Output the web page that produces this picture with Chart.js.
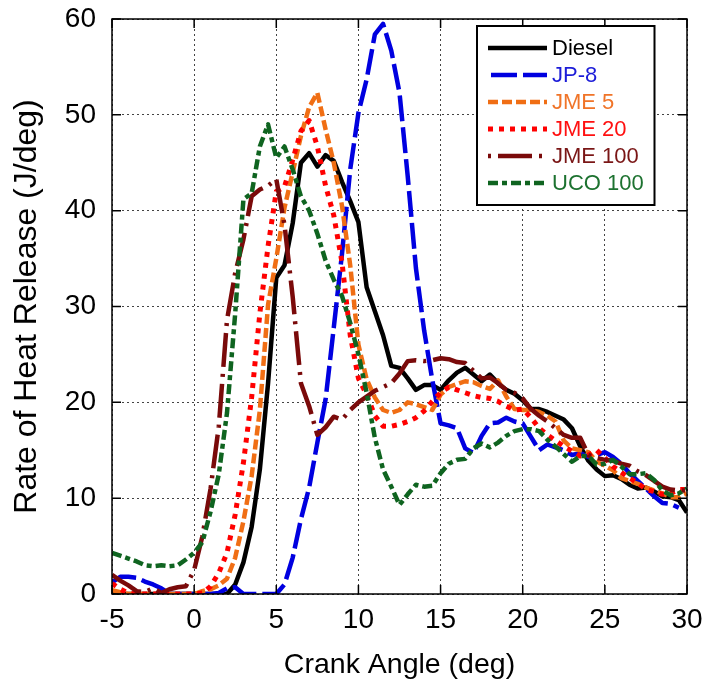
<!DOCTYPE html>
<html><head><meta charset="utf-8">
<script src="https://cdn.jsdelivr.net/npm/chart.js@4.4.1/dist/chart.umd.min.js"></script>
<style>html,body{margin:0;padding:0;background:#fff;}#wrap{width:706px;height:692px;position:relative;}</style>
</head><body><div id="wrap"><canvas id="c" width="706" height="692"></canvas></div>
<script>
const crankAngle = [-5,-4.5,-4,-3.5,-3,-2.5,-2,-1.5,-1,-0.5,0,0.5,1,1.5,2,2.5,3,3.5,4,4.5,5,5.5,6,6.5,7,7.5,8,8.5,9,9.5,10,10.5,11,11.5,12,12.5,13,13.5,14,14.5,15,15.5,16,16.5,17,17.5,18,18.5,19,19.5,20,20.5,21,21.5,22,22.5,23,23.5,24,24.5,25,25.5,26,26.5,27,27.5,28,28.5,29,29.5,30];
const diesel = [0.3,0,0,0,0,0,0,0,0,0,0,0,0,0,0,1.0,3.3,7.0,13.0,22.0,33.0,34.3,38.7,45.0,46.0,44.6,45.8,45.2,43.0,41.0,38.8,32.0,29.5,27.0,23.8,23.6,22.5,21.3,21.8,21.8,21.3,22.3,23.1,23.6,22.9,22.2,22.9,22.0,21.3,20.9,20.2,19.3,19.3,19.0,18.6,18.2,17.3,15.4,13.9,13.0,12.3,12.4,12.0,11.4,11.0,11.1,10.7,10.2,10.1,9.8,8.5];
const jp8 = [1.2,1.8,1.8,1.7,1.3,1.0,0.6,0,0,0,0,0,0,0.1,0.6,0.7,0,0,0,0,0,1.0,3.8,7.8,11.1,15.8,20.3,27.8,35.5,44.3,50.2,53.7,58.4,59.5,56.7,52.3,43.6,34.0,27.5,22.3,17.8,17.6,17.3,15.2,14.7,16.5,17.8,17.9,18.4,18.0,17.8,16.4,15.0,15.6,15.3,15.0,14.5,14.7,14.3,14.5,14.8,14.3,13.6,12.6,11.8,11.0,10.2,9.5,9.4,9.0,null];
const jme5 = [0.4,0.2,0,0,0,0,0,0,0,0,0,0.3,0.5,0.9,1.6,3.8,7.6,12.3,19.2,30.2,35.0,40.3,44.0,47.8,50.8,52.3,48.5,45.0,40.5,34.3,26.0,22.4,20.5,19.2,18.9,19.2,20.0,19.8,19.5,19.2,20.8,21.6,21.9,22.2,22.1,21.7,21.4,22.3,20.6,19.3,19.2,19.2,19.0,18.6,18.0,16.0,15.2,15.0,14.8,13.8,13.4,12.9,12.1,11.8,11.5,11.1,10.8,10.5,10.1,10.1,10.5];
const jme20 = [1.1,0.5,0.1,0,0,0,0,0,0,0,0,0.1,0.8,2.2,4.3,8.3,13.7,20.5,29.3,36.3,42.0,42.5,45.3,48.3,49.4,46.7,42.6,39.5,34.6,27.0,22.5,20.8,18.6,17.5,17.5,17.7,18.0,18.4,19.1,20.1,21.0,21.6,21.3,21.0,20.7,20.5,20.4,20.1,19.6,19.2,19.3,18.4,17.3,16.6,16.0,15.4,14.9,14.4,14.5,15.0,14.2,13.3,12.7,12.1,11.6,10.9,10.7,10.4,10.5,10.9,10.9];
const jme100 = [2.0,1.4,0.9,0.3,0.2,0.6,0.1,0.5,0.7,0.8,2.5,6.0,11.0,17.5,28.6,33.5,37.0,41.5,42.2,42.6,43.3,38.5,31.0,22.0,19.6,16.6,17.4,18.5,18.2,19.2,20.0,20.6,21.2,21.6,22.0,23.0,24.3,24.4,24.3,24.4,24.6,24.5,24.2,24.1,23.3,22.5,22.6,22.0,21.3,21.0,20.4,19.3,18.6,18.0,17.3,16.6,16.3,16.3,14.5,14.2,14.0,13.9,13.6,13.4,12.8,12.4,11.8,11.2,10.9,10.8,10.8];
const uco100 = [4.3,4.0,3.7,3.4,3.0,2.9,3.0,2.9,3.0,3.6,4.3,5.4,8.6,12.5,18.9,29.3,41.2,41.8,46.7,49.0,45.5,46.7,44.3,41.5,40.0,37.6,34.8,32.8,31.1,28.3,25.0,21.0,16.3,13.0,11.2,9.3,10.4,11.4,11.2,11.3,12.6,13.6,14.0,14.1,15.2,15.7,15.3,15.8,16.5,17.0,17.2,17.2,17.0,16.1,15.4,14.6,13.8,14.4,14.4,13.5,13.6,14.0,13.3,12.5,12.5,12.6,11.9,10.8,10.3,10.5,11.0];

const seriesNames = ['Diesel','JP-8','JME 5','JME 20','JME 100','UCO 100'];
const seriesValues = [diesel, jp8, jme5, jme20, jme100, uco100];
const xTicks = [-5,0,5,10,15,20,25,30];
const yTicks = [0,10,20,30,40,50,60];

const lineColors = ['#000000','#0000e0','#f06e14','#ff0000','#7a0a0a','#0f6420'];
const textColors = ['#000000','#1c1cd8','#f07428','#ff1010','#7a1616','#1d7230'];
const dashes = [[], [26,6], [10,4], [5,6], [34,7,3,7], [10,4,5,4]];
const legendDashOffsets = [0, 29, 0, 0, 41, 0];
const widths = [4.5, 4.5, 4.5, 5, 4.5, 4.5];
const FONT = "'Liberation Sans', Arial, sans-serif";

const datasets = seriesNames.map((name, i) => ({
  label: name,
  data: crankAngle.map((x, j) => ({x: x, y: seriesValues[i][j]})),
  borderColor: lineColors[i],
  backgroundColor: lineColors[i],
  borderWidth: widths[i],
  borderDash: dashes[i],
  borderCapStyle: 'butt',
  borderJoinStyle: 'round',
  pointRadius: 0,
  pointHoverRadius: 0,
  tension: 0,
  fill: false,
  order: seriesNames.length - i
}));

const framePlugin = {
  id: 'frame',
  afterDatasetsDraw(chart) {
    const {ctx, chartArea: a, scales} = chart;
    ctx.save();
    ctx.strokeStyle = '#000';
    ctx.lineWidth = 1.5;
    ctx.setLineDash([]);
    ctx.strokeRect(a.left, a.top, a.right - a.left, a.bottom - a.top);
    const L = 9;
    ctx.beginPath();
    xTicks.forEach(v => {
      const px = scales.x.getPixelForValue(v);
      ctx.moveTo(px, a.bottom); ctx.lineTo(px, a.bottom - L);
      ctx.moveTo(px, a.top); ctx.lineTo(px, a.top + L);
    });
    yTicks.forEach(v => {
      const py = scales.y.getPixelForValue(v);
      ctx.moveTo(a.left, py); ctx.lineTo(a.left + L, py);
      ctx.moveTo(a.right, py); ctx.lineTo(a.right - L, py);
    });
    ctx.stroke();
    ctx.restore();
  }
};

const legendPlugin = {
  id: 'boxLegend',
  afterDraw(chart) {
    const {ctx, chartArea: a} = chart;
    const boxL = a.right - 210, boxT = a.top + 7, boxW = 177.5, boxH = 179;
    ctx.save();
    ctx.fillStyle = '#fff';
    ctx.fillRect(boxL, boxT, boxW, boxH);
    ctx.strokeStyle = '#000';
    ctx.lineWidth = 2;
    ctx.setLineDash([]);
    ctx.strokeRect(boxL, boxT, boxW, boxH);
    ctx.font = '22px ' + FONT;
    ctx.textBaseline = 'middle';
    ctx.textAlign = 'left';
    seriesNames.forEach((name, i) => {
      const y = boxT + 22 + i * 27;
      ctx.beginPath();
      ctx.strokeStyle = lineColors[i];
      ctx.lineWidth = widths[i];
      ctx.lineCap = 'butt';
      ctx.setLineDash(dashes[i]);
      ctx.lineDashOffset = legendDashOffsets[i];
      ctx.moveTo(boxL + 11, y);
      ctx.lineTo(boxL + 70, y);
      ctx.stroke();
      ctx.setLineDash([]);
      ctx.lineDashOffset = 0;
      ctx.fillStyle = textColors[i];
      ctx.fillText(name, boxL + 75, y + 1);
    });
    ctx.restore();
  }
};

new Chart(document.getElementById('c'), {
  type: 'line',
  data: {datasets: datasets},
  plugins: [framePlugin, legendPlugin],
  options: {
    responsive: false,
    animation: false,
    devicePixelRatio: 1,
    layout: {padding: {top: 19, right: 19, left: 0, bottom: 0}},
    plugins: {legend: {display: false}, tooltip: {enabled: false}},
    scales: {
      x: {
        type: 'linear', min: -5, max: 30,
        afterBuildTicks: s => { s.ticks = xTicks.map(v => ({value: v})); },
        afterFit: s => { s.height = 98; s.paddingLeft = 0; s.paddingRight = 0; },
        ticks: {color: '#000', font: {family: FONT, size: 28}, padding: 9, maxRotation: 0},
        grid: {color: '#444', lineWidth: 1, drawTicks: false},
        border: {display: false, dash: [2, 3]},
        title: {display: true, text: 'Crank Angle (deg)', color: '#000', font: {family: FONT, size: 28.5}, padding: {top: 0, bottom: 10}}
      },
      y: {
        type: 'linear', min: 0, max: 60,
        afterBuildTicks: s => { s.ticks = yTicks.map(v => ({value: v})); },
        afterFit: s => { s.width = 112; s.paddingTop = 0; s.paddingBottom = 0; },
        ticks: {color: '#000', font: {family: FONT, size: 28}, padding: 16},
        grid: {color: '#444', lineWidth: 1, drawTicks: false},
        border: {display: false, dash: [2, 3]},
        title: {display: true, text: 'Rate of Heat Release (J/deg)', color: '#000', font: {family: FONT, size: 32}, padding: {top: 8, bottom: 0}}
      }
    }
  }
});
</script>
</body></html>
